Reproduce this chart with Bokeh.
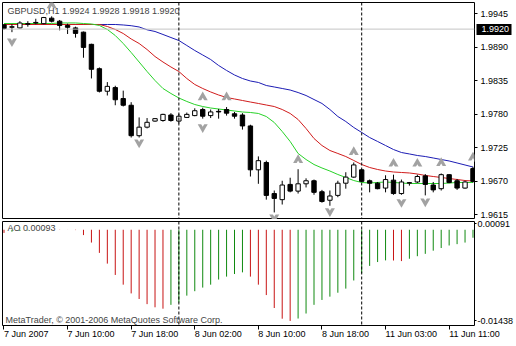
from bokeh.plotting import figure
from bokeh.layouts import column
from bokeh.models import (Range1d, FixedTicker, Span, Label, ColumnDataSource,
                          NumeralTickFormatter, LinearAxis)
from bokeh.embed import file_html
from bokeh.resources import INLINE

# ---------------- data ----------------
symbol = "GBPUSD,H1"
last_ohlc = ["1.9924", "1.9928", "1.9918", "1.9920"]
bid = 1.9920
ao_last = "0.00093"

bars = list(range(60))
opens = [1.9927, 1.9923, 1.9922, 1.9929, 1.9930, 1.9929, 1.9938, 1.9933, 1.9926, 1.9922,
         1.9915, 1.9895, 1.9855, 1.9818, 1.9824, 1.9806, 1.9795, 1.9745, 1.9759, 1.9769,
         1.9770, 1.9779, 1.9769, 1.9775, 1.9778, 1.9788, 1.9778, 1.9785, 1.9788, 1.9781,
         1.9779, 1.9761, 1.9689, 1.9701, 1.9650, 1.9640, 1.9665, 1.9654, 1.9666, 1.9671,
         1.9653, 1.9639, 1.9647, 1.9667, 1.9677, 1.9689, 1.9671, 1.9667, 1.9659, 1.9672,
         1.9650, 1.9667, 1.9669, 1.9679, 1.9664, 1.9658, 1.9681, 1.9671, 1.9659, 1.9691]
highs = [1.9928, 1.9928, 1.9933, 1.9933, 1.9937, 1.9940, 1.9941, 1.9935, 1.9929, 1.9924,
         1.9916, 1.9896, 1.9857, 1.9833, 1.9827, 1.9819, 1.9800, 1.9775, 1.9774, 1.9774,
         1.9781, 1.9782, 1.9781, 1.9783, 1.9790, 1.9791, 1.9788, 1.9789, 1.9792, 1.9784,
         1.9782, 1.9763, 1.9711, 1.9704, 1.9655, 1.9671, 1.9676, 1.9690, 1.9675, 1.9673,
         1.9656, 1.9655, 1.9671, 1.9685, 1.9701, 1.9690, 1.9673, 1.9669, 1.9680, 1.9681,
         1.9673, 1.9669, 1.9681, 1.9682, 1.9669, 1.9683, 1.9682, 1.9674, 1.9671, 1.9694]
lows = [1.9919, 1.9915, 1.9921, 1.9924, 1.9928, 1.9928, 1.9931, 1.9918, 1.9912, 1.9906,
        1.9873, 1.9839, 1.9816, 1.9811, 1.9795, 1.9793, 1.9742, 1.9742, 1.9757, 1.9768,
        1.9768, 1.9768, 1.9765, 1.9774, 1.9777, 1.9773, 1.9774, 1.9773, 1.9778, 1.9773,
        1.9755, 1.9678, 1.9666, 1.9640, 1.9619, 1.9632, 1.9652, 1.9650, 1.9660, 1.9648,
        1.9635, 1.9630, 1.9644, 1.9658, 1.9676, 1.9669, 1.9652, 1.9657, 1.9652, 1.9648,
        1.9648, 1.9663, 1.9667, 1.9647, 1.9652, 1.9655, 1.9667, 1.9656, 1.9658, 1.9668]
closes = [1.9921, 1.9924, 1.9930, 1.9928, 1.9931, 1.9939, 1.9933, 1.9926, 1.9923, 1.9913,
          1.9890, 1.9854, 1.9818, 1.9826, 1.9804, 1.9795, 1.9745, 1.9759, 1.9767, 1.9773,
          1.9780, 1.9770, 1.9777, 1.9780, 1.9786, 1.9777, 1.9784, 1.9784, 1.9782, 1.9777,
          1.9761, 1.9689, 1.9704, 1.9647, 1.9642, 1.9664, 1.9654, 1.9666, 1.9671, 1.9652,
          1.9637, 1.9646, 1.9667, 1.9677, 1.9697, 1.9670, 1.9667, 1.9658, 1.9673, 1.9650,
          1.9669, 1.9668, 1.9678, 1.9665, 1.9656, 1.9681, 1.9668, 1.9659, 1.9669, 1.9670]

jaw = [1.99276] * 15 + [
    1.99268, 1.99256, 1.99235, 1.99189, 1.99161, 1.99112, 1.99062, 1.99013, 1.98931, 1.98849,
    1.98775, 1.98701, 1.98603, 1.98521, 1.98447, 1.98389, 1.98348, 1.98324, 1.98274, 1.98250,
    1.98225, 1.98200, 1.98159, 1.98110, 1.98044, 1.97979, 1.97880, 1.97765, 1.97683, 1.97585,
    1.97503, 1.97420, 1.97355, 1.97289, 1.97223, 1.97174, 1.97150, 1.97125, 1.97108, 1.97084,
    1.97059, 1.97035, 1.97002, 1.96969, 1.96936]
teeth = [1.99276] * 13 + [
    1.99243, 1.99194, 1.99128, 1.99038, 1.98964, 1.98865, 1.98750, 1.98660, 1.98578, 1.98504,
    1.98389, 1.98291, 1.98225, 1.98168, 1.98118, 1.98077, 1.98053, 1.98028, 1.98003, 1.97979,
    1.97954, 1.97929, 1.97880, 1.97815, 1.97716, 1.97568, 1.97404, 1.97289, 1.97207, 1.97158,
    1.97108, 1.97043, 1.96977, 1.96928, 1.96895, 1.96870, 1.96854, 1.96846, 1.96838, 1.96821,
    1.96797, 1.96780, 1.96764, 1.96747, 1.96731, 1.96714, 1.96706]
lips = [1.99292] * 7 + [
    1.99301, 1.99301, 1.99301, 1.99292, 1.99284, 1.99260, 1.99194, 1.99095, 1.98964, 1.98816,
    1.98660, 1.98504, 1.98356, 1.98225, 1.98143, 1.98069, 1.98012, 1.97962, 1.97929, 1.97905,
    1.97888, 1.97872, 1.97856, 1.97839, 1.97831, 1.97815, 1.97765, 1.97667, 1.97519, 1.97355,
    1.97158, 1.97059, 1.96977, 1.96920, 1.96870, 1.96813, 1.96764, 1.96714, 1.96682, 1.96673,
    1.96682, 1.96690, 1.96682, 1.96673, 1.96665, 1.96665, 1.96665, 1.96665, 1.96665, 1.96673,
    1.96682, 1.96682, 1.96682]

ao = [-0.00050, -0.00030, -0.00020, -0.00010, 0.00000, 0.00010, 0.00010, 0.00003, 0.00001, -0.00005,
      -0.00084, -0.00202, -0.00365, -0.00534, -0.00713, -0.00866, -0.01004, -0.01092, -0.01173, -0.01223,
      -0.01245, -0.01184, -0.01147, -0.01039, -0.00969, -0.00912, -0.00866, -0.00785, -0.00739, -0.00698,
      -0.00672, -0.00739, -0.00866, -0.01030, -0.01234, -0.01403, -0.01438, -0.01400, -0.01321, -0.01184,
      -0.01107, -0.01055, -0.00993, -0.00928, -0.00800, -0.00687, -0.00570, -0.00509, -0.00483, -0.00485,
      -0.00494, -0.00457, -0.00417, -0.00380, -0.00330, -0.00288, -0.00248, -0.00227, -0.00202, -0.00126]

fractal_up_bars = [6, 25, 28, 37, 44, 49, 52, 55, 59]
fractal_up_price = [1.9959, 1.9808, 1.9808, 1.9705, 1.9718, 1.9699, 1.9699, 1.9700, 1.9709]
fractal_down_bars = [1, 17, 25, 34, 41, 50, 53]
fractal_down_price = [1.9900, 1.9734, 1.9759, 1.9611, 1.9621, 1.9636, 1.9637]

day_separators = [22, 45]
price_ticks = [1.9945, 1.9890, 1.9835, 1.9780, 1.9725, 1.9670, 1.9615]
ao_ticks = [0.00091, -0.01438]
time_ticks = [0, 8, 16, 24, 32, 40, 48, 56]
time_labels = ["7 Jun 2007", "7 Jun 10:00", "7 Jun 18:00", "8 Jun 02:00",
               "8 Jun 10:00", "8 Jun 18:00", "11 Jun 03:00", "11 Jun 11:00"]
copyright_text = "MetaTrader, \u00a9 2001-2006 MetaQuotes Software Corp."

# ---------------- styling ----------------
FONT = "Liberation Sans"
FS = "9px"
C_JAW, C_TEETH, C_LIPS = "#1c1cb4", "#d01c1c", "#28d228"
C_UP, C_DN = "#108a10", "#c81414"
FRACTAL = "#a2a2a2"
PRICE_LO, PRICE_HI = 1.96074, 1.99637
MAIN_FRAME_H = 217


def plain_axis(ax, tick_out, standoff):
    ax.major_label_text_font = FONT
    ax.major_label_text_font_size = FS
    ax.major_label_text_color = "black"
    ax.major_tick_out = tick_out
    ax.major_tick_in = 0
    ax.minor_tick_out = 0
    ax.minor_tick_in = 0
    ax.axis_line_color = None
    ax.major_label_standoff = standoff
    ax.axis_label_standoff = 0


xr = Range1d(-0.1875, 59.19)

# ---------------- main price panel ----------------
p = figure(width=516, height=219, x_range=xr, y_range=Range1d(PRICE_LO, PRICE_HI),
           x_axis_location=None, y_axis_location="right",
           min_border_left=2, min_border_right=39, min_border_top=2, min_border_bottom=0,
           toolbar_location=None, output_backend="svg")
p.grid.visible = False
p.outline_line_color = "black"
p.outline_line_width = 1
p.background_fill_color = "white"
p.border_fill_color = "white"

ya = p.yaxis[0]
ya.ticker = FixedTicker(ticks=price_ticks)
ya.formatter = NumeralTickFormatter(format="0.0000")
plain_axis(ya, 3, 3)

# current bid marker on the price scale (black box, white text)
bid_axis = LinearAxis(ticker=FixedTicker(ticks=[bid]),
                      formatter=NumeralTickFormatter(format="0.0000"))
plain_axis(bid_axis, 0, -30)
bid_axis.major_tick_in = 35
bid_axis.major_tick_line_width = 11
bid_axis.major_tick_line_color = "black"
bid_axis.major_tick_line_cap = "butt"
bid_axis.major_label_text_color = "white"
p.add_layout(bid_axis, "right")

p.add_layout(Span(location=bid, dimension="width", line_color="#c4c4c4", line_width=1))
for d in day_separators:
    p.add_layout(Span(location=d, dimension="height", line_color="black",
                      line_dash="3 2", line_width=1))

# alligator
p.line(bars, jaw, line_color=C_JAW, line_width=1)
p.line(bars, teeth, line_color=C_TEETH, line_width=1)
p.line(bars, lips, line_color=C_LIPS, line_width=1)

# candles
tops = [max(o, c) for o, c in zip(opens, closes)]
bots = [min(o, c) for o, c in zip(opens, closes)]
fills = ["white" if c >= o else "black" for o, c in zip(opens, closes)]
src = ColumnDataSource(dict(x=bars, h=highs, l=lows, top=tops, bot=bots, fill=fills))
p.segment(x0="x", y0="l", x1="x", y1="h", source=src, line_color="black", line_width=1)
p.vbar(x="x", top="top", bottom="bot", width=0.55, source=src,
       fill_color="fill", line_color="black", line_width=1)

# fractals: gray arrowheads with a small notch in the base
notch = 2.8 * (PRICE_HI - PRICE_LO) / MAIN_FRAME_H       # ~3 px in price units
p.scatter(fractal_up_bars, fractal_up_price, marker="triangle", size=10,
          fill_color=FRACTAL, line_color=None)
p.scatter(fractal_up_bars, [v - notch for v in fractal_up_price], marker="triangle", size=4,
          fill_color="white", line_color=None)
p.scatter(fractal_down_bars, fractal_down_price, marker="inverted_triangle", size=10,
          fill_color=FRACTAL, line_color=None)
p.scatter(fractal_down_bars, [v + notch for v in fractal_down_price],
          marker="inverted_triangle", size=4, fill_color="white", line_color=None)

p.add_layout(Label(x=5, y=209, x_units="screen", y_units="screen",
                   text=symbol + "  " + " ".join(last_ohlc),
                   text_font=FONT, text_font_size=FS, text_baseline="middle"))

# ---------------- AO panel ----------------
q = figure(width=516, height=127, x_range=xr, y_range=Range1d(-0.015100, 0.001303),
           x_axis_location="below", y_axis_location="right",
           min_border_left=2, min_border_right=39, min_border_top=2, min_border_bottom=18,
           toolbar_location=None, output_backend="svg")
q.grid.visible = False
q.outline_line_color = "black"
q.outline_line_width = 1
q.background_fill_color = "white"
q.border_fill_color = "white"

qa = q.yaxis[0]
qa.ticker = FixedTicker(ticks=ao_ticks)
qa.formatter = NumeralTickFormatter(format="0.00000")
plain_axis(qa, 2, 1)

xa = q.xaxis[0]
xa.ticker = FixedTicker(ticks=time_ticks)
xa.major_label_overrides = {t: s for t, s in zip(time_ticks, time_labels)}
plain_axis(xa, 4, 4)
xa.major_label_orientation = -0.0001   # keeps labels level, anchors them at their left end

for d in day_separators:
    q.add_layout(Span(location=d, dimension="height", line_color="black",
                      line_dash="3 2", line_width=1))

ao_colors = [C_DN] + [C_UP if ao[i] > ao[i - 1] else C_DN for i in range(1, len(ao))]
q.segment(x0=bars, y0=[0] * len(bars), x1=bars, y1=ao, line_color=ao_colors, line_width=1)

q.add_layout(Label(x=5, y=98, x_units="screen", y_units="screen",
                   text="AO " + ao_last, text_font=FONT, text_font_size=FS,
                   text_baseline="middle"))
q.add_layout(Label(x=3, y=6, x_units="screen", y_units="screen",
                   text=copyright_text, text_font=FONT, text_font_size=FS,
                   text_baseline="middle"))

layout = column(p, q, spacing=0)
open("out.html", "w").write(file_html(layout, INLINE))
